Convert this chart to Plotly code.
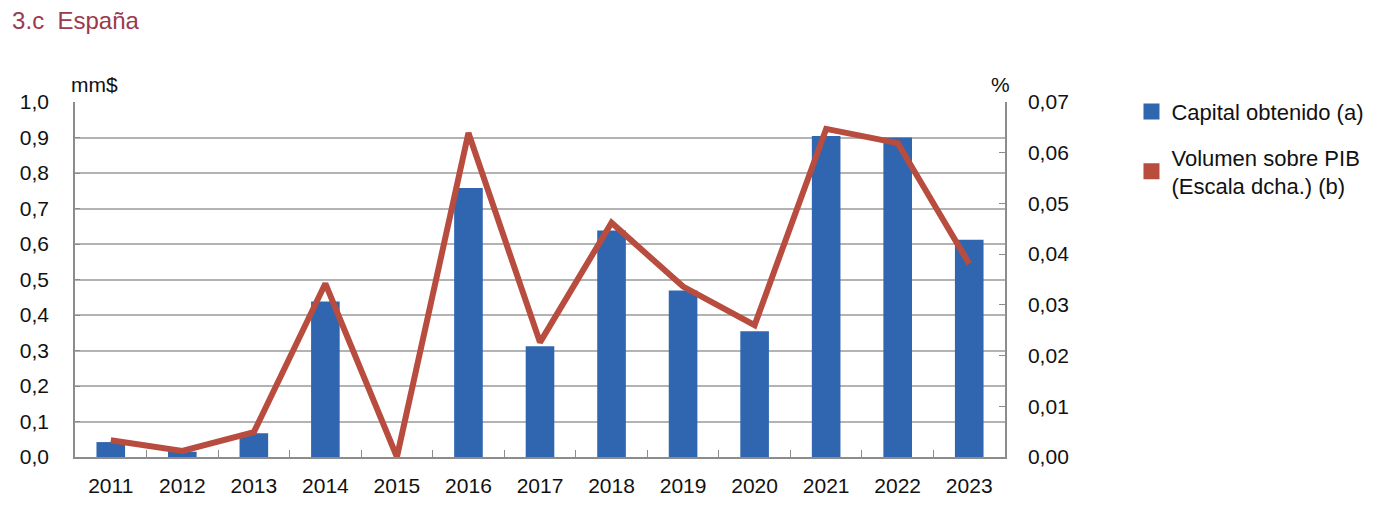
import plotly.graph_objects as go

years = ["2011", "2012", "2013", "2014", "2015", "2016", "2017", "2018", "2019", "2020", "2021", "2022", "2023"]
capital = [0.042, 0.015, 0.067, 0.438, 0.0, 0.758, 0.312, 0.638, 0.469, 0.354, 0.904, 0.900, 0.612]
volumen_pib = [0.0033, 0.0012, 0.0049, 0.0342, 0.0, 0.0639, 0.0226, 0.0462, 0.0336, 0.0260, 0.0647, 0.0619, 0.0381]

left_ticks = [i / 10 for i in range(11)]
right_ticks = [i / 100 for i in range(8)]

BLUE = "#3066b0"
RED = "#b84c3f"
GRID = "#b3b3b3"
AXIS = "#8c8c8c"
FONT = "Liberation Sans, Arial, Helvetica, sans-serif"

fig = go.Figure()
fig.add_trace(go.Bar(x=years, y=capital, marker=dict(color=BLUE, line=dict(width=0)),
                     width=0.4, showlegend=False, yaxis="y"))
fig.add_trace(go.Scatter(x=years, y=volumen_pib, mode="lines", line=dict(color=RED, width=6),
                         showlegend=False, yaxis="y2"))
# legend entries
fig.add_trace(go.Scatter(x=[None], y=[None], mode="markers", name="Capital obtenido (a)",
                         legendgroup="a",
                         marker=dict(symbol="square", size=16, color=BLUE)))
fig.add_trace(go.Scatter(x=[None], y=[None], mode="markers", name="Volumen sobre PIB<br>(Escala dcha.) (b)",
                         legendgroup="b",
                         marker=dict(symbol="square", size=16, color=RED)))

fig.update_layout(
    width=1374, height=501,
    margin=dict(l=62, r=376, t=94, b=51),
    paper_bgcolor="white", plot_bgcolor="white",
    separators=",.",
    font=dict(family=FONT, size=21, color="#111111"),
    barmode="overlay",
    showlegend=True,
    title=dict(text="3.c\u00a0\u00a0España", xref="container", yref="container",
               x=0.003, y=0.975, xanchor="left", yanchor="middle",
               pad=dict(l=0, r=0, t=0, b=0),
               font=dict(size=24, color="#9b3a4c", family=FONT)),
    legend=dict(x=1.136, y=1.032, xanchor="left", yanchor="top",
                font=dict(size=22, family=FONT, color="#111111"),
                traceorder="grouped", tracegroupgap=14,
                itemsizing="trace", itemwidth=30, bgcolor="rgba(0,0,0,0)"),
    xaxis=dict(type="category", categoryorder="array", categoryarray=years,
               showline=True, linecolor=AXIS, linewidth=1.5,
               ticks="inside", tickson="boundaries", ticklen=7, tickcolor=AXIS,
               tickfont=dict(size=21), showgrid=False, range=[-0.5, 12.5],
               ticklabelstandoff=9),
    yaxis=dict(range=[0, 1.0], tickvals=left_ticks, tickformat=".1f",
               showgrid=True, gridcolor=GRID, gridwidth=1.5,
               showline=True, linecolor=AXIS, linewidth=1.5,
               ticks="inside", ticklen=5, tickcolor=AXIS,
               tickfont=dict(size=21), ticklabelstandoff=20, zeroline=False),
    yaxis2=dict(range=[0, 0.07], tickvals=right_ticks, tickformat=".2f",
                overlaying="y", side="right", showgrid=False,
                showline=True, linecolor=AXIS, linewidth=1.5,
                ticks="inside", ticklen=6, tickcolor=AXIS,
                tickfont=dict(size=21), ticklabelstandoff=17, zeroline=False),
    annotations=[
        dict(text="mm$", xref="paper", yref="paper", x=-0.006, y=1.05,
             xanchor="left", yanchor="middle", showarrow=False,
             font=dict(size=21, color="#111111", family=FONT)),
        dict(text="%", xref="paper", yref="paper", x=0.995, y=1.05,
             xanchor="center", yanchor="middle", showarrow=False,
             font=dict(size=21, color="#111111", family=FONT)),
    ],
)

fig.write_html("out.html")
